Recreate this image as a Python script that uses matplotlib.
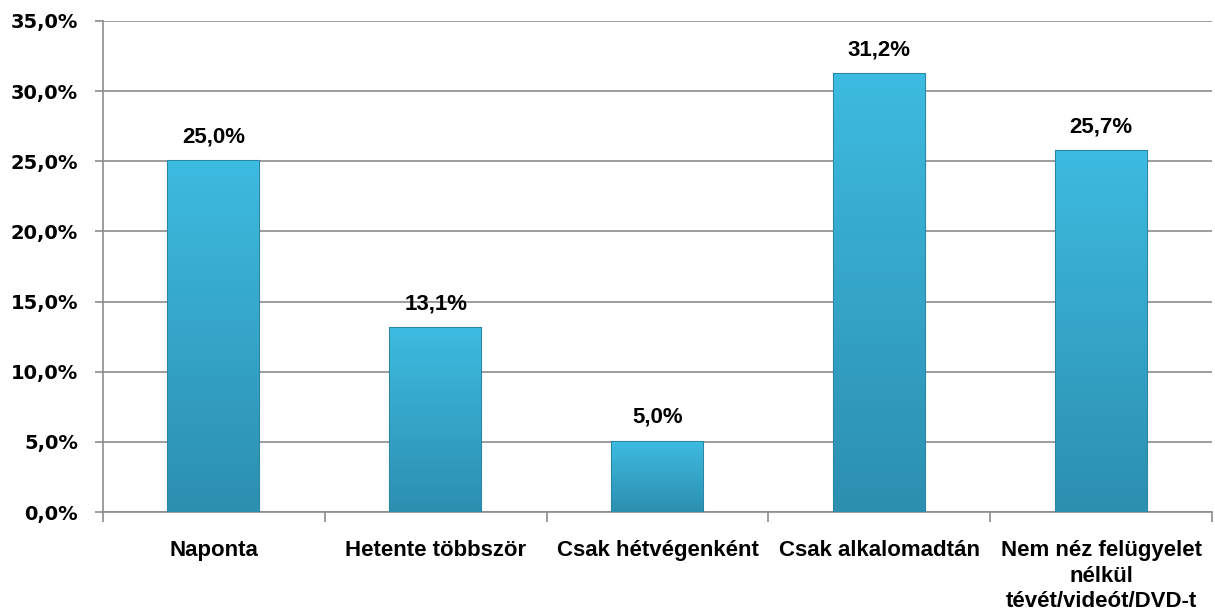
import matplotlib
matplotlib.use("Agg")
import matplotlib.pyplot as plt
import numpy as np
from matplotlib.ticker import FixedLocator, FuncFormatter
from matplotlib.colors import LinearSegmentedColormap

categories = ["Naponta", "Hetente többször", "Csak hétvégenként", "Csak alkalomadtán",
              "Nem néz felügyelet\nnélkül\ntévét/videót/DVD-t"]
values = [25.0, 13.1, 5.0, 31.2, 25.7]
yticks = [0, 5, 10, 15, 20, 25, 30, 35]

lab_font = "Liberation Sans"

fig = plt.figure(figsize=(12.15, 6.14), dpi=100)
ax = fig.add_axes([0.0848, 0.1661, 0.9127, 0.7997])

x = np.arange(len(categories))
width = 0.41
bars = ax.bar(x, values, width=width, color="#36acd2", edgecolor="#2a86a6", linewidth=1.5, zorder=3)

grad = np.linspace(0, 1, 256).reshape(-1, 1)
cmap = LinearSegmentedColormap.from_list("g", ["#2c8fb0", "#3dbbe0"])
for b in bars:
    x0, y0 = b.get_x(), b.get_y()
    w, h = b.get_width(), b.get_height()
    im = ax.imshow(grad, extent=[x0, x0 + w, y0, y0 + h], origin="lower", cmap=cmap,
                   aspect="auto", zorder=3.5)
    im.set_clip_path(b)

for xi, v in zip(x, values):
    ax.text(xi, v + 1.0, f"{v:.1f}%".replace(".", ","), ha="center", va="bottom",
            fontsize=16, fontweight="bold", family=lab_font, zorder=5)

ax.set_xlim(-0.5, len(categories) - 0.5)
ax.set_ylim(0, 35)
ax.yaxis.set_major_locator(FixedLocator(yticks))
ax.yaxis.set_major_formatter(FuncFormatter(lambda v, p: f"{v:.1f}%".replace(".", ",")))
ax.grid(axis="y", color="#8c8c8c", linewidth=1.2, zorder=0)
ax.set_axisbelow(True)

ax.set_xticks(x)
ax.set_xticklabels(categories, fontsize=16, fontweight="bold", family=lab_font, linespacing=1.3)
ax.tick_params(axis="x", which="major", length=0, pad=20)
ax.set_xticks(np.arange(-0.5, len(categories)), minor=True)
ax.tick_params(axis="x", which="minor", length=7, color="#8c8c8c", width=1.2, direction="out")
ax.tick_params(axis="y", length=6, color="#8c8c8c", width=1.2, pad=12, labelsize=14)
for lab in ax.get_yticklabels():
    lab.set_fontweight("bold")
    lab.set_family("DejaVu Sans")

for s in ["top", "right"]:
    ax.spines[s].set_visible(False)
for s in ["left", "bottom"]:
    ax.spines[s].set_color("#8c8c8c")
    ax.spines[s].set_linewidth(1.2)

fig.savefig("out.png", dpi=100)
